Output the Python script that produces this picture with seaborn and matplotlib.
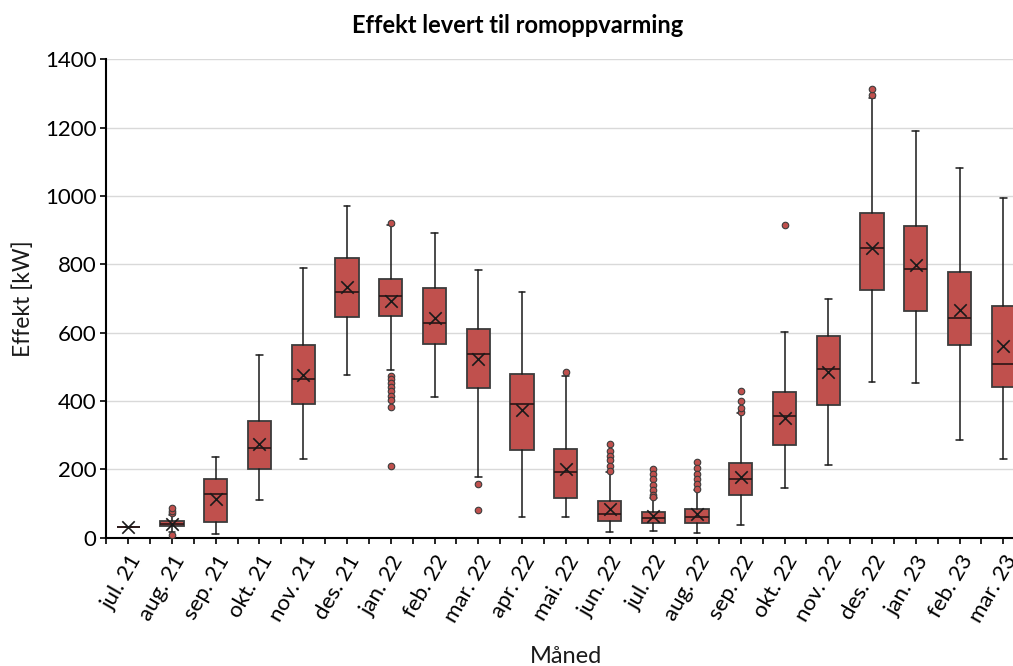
import numpy as np
import matplotlib
matplotlib.use("Agg")
import matplotlib.pyplot as plt
import seaborn as sns

# ------------------------------
# Data
# ------------------------------
months = ["jul. 21", "aug. 21", "sep. 21", "okt. 21", "nov. 21", "des. 21",
          "jan. 22", "feb. 22", "mar. 22", "apr. 22", "mai. 22", "jun. 22",
          "jul. 22", "aug. 22", "sep. 22", "okt. 22", "nov. 22", "des. 22",
          "jan. 23", "feb. 23", "mar. 23"]

whisker_low = [30, 18, 12, 109, 230, 476, 491, 413, 178, 62, 60, 17, 19, 13, 36, 145, 213, 456, 454, 286, 231]
q1 = [30, 33, 46, 200, 392, 647, 649, 568, 438, 256, 116, 50, 44, 42, 124, 272, 387, 724, 662, 563, 440]
median = [30, 41, 128, 263, 464, 719, 706, 629, 538, 392, 191, 69, 57, 60, 172, 355, 495, 849, 787, 644, 509]
q3 = [30, 48, 173, 342, 563, 819, 758, 731, 612, 479, 260, 107, 75, 84, 220, 425, 590, 951, 913, 778, 678]
whisker_high = [30, 67, 235, 535, 789, 971, 914, 892, 784, 719, 473, 191, 116, 141, 365, 601, 699, 1288, 1191, 1081, 993]
mean = [30, 41, 113, 274, 477, 733, 694, 643, 523, 375, 202, 84, 64, 69, 177, 350, 485, 848, 797, 665, 560]

# outliers: month label + value
outlier_month = (["aug. 21"] * 4 + ["jan. 22"] * 10 + ["mar. 22"] * 2 + ["mai. 22"]
                 + ["jun. 22"] * 6 + ["jul. 22"] * 7 + ["aug. 22"] * 6
                 + ["sep. 22"] * 4 + ["okt. 22"] + ["des. 22"] * 2)
outlier_value = ([9, 72, 79, 87]
                 + [920, 474, 465, 453, 440, 429, 416, 404, 383, 209]
                 + [157, 82]
                 + [486]
                 + [274, 255, 240, 226, 211, 196]
                 + [202, 187, 171, 155, 141, 126, 118]
                 + [223, 204, 187, 173, 158, 143]
                 + [368, 380, 399, 428]
                 + [914]
                 + [1295, 1312])

# ------------------------------
# Style
# ------------------------------
sns.set_theme(style="whitegrid")
plt.rcParams["font.family"] = ["Lato", "DejaVu Sans"]

box_color = "#C0504D"
edge_color = "#3c3c3c"

fig = plt.figure(figsize=(10.13, 6.66), dpi=100)
ax = fig.add_axes([0.105, 0.1926, 0.907, 0.7184])

# ------------------------------
# Boxes from the five-number summaries
# ------------------------------
positions = np.arange(len(months))
stats = []
for i, m in enumerate(months):
    stats.append({
        "label": m,
        "whislo": whisker_low[i],
        "q1": q1[i],
        "med": median[i],
        "q3": q3[i],
        "whishi": whisker_high[i],
        "fliers": [],
    })

ax.bxp(stats, positions=positions, widths=0.53, capwidths=0.15,
       patch_artist=True, showmeans=False, showfliers=False,
       boxprops=dict(facecolor=box_color, edgecolor=edge_color, linewidth=1.3),
       medianprops=dict(color="#2a1515", linewidth=1.2),
       whiskerprops=dict(color="#1a1a1a", linewidth=1.1),
       capprops=dict(color="#1a1a1a", linewidth=1.1))

# means (x markers)
sns.scatterplot(x=positions, y=mean, marker="x", color="#1a1a1a", s=80,
                linewidth=1.2, ax=ax, zorder=5, legend=False)

# outliers
outlier_pos = [months.index(m) for m in outlier_month]
sns.scatterplot(x=outlier_pos, y=outlier_value, color=box_color,
                edgecolor=edge_color, s=22, linewidth=0.8, ax=ax, zorder=4,
                legend=False)

# ------------------------------
# Axes, ticks, labels
# ------------------------------
ax.set_xlim(-0.5, len(months) - 0.5)
ax.set_ylim(0, 1400)
ax.set_yticks(np.arange(0, 1401, 200))
ax.set_xticks(positions)
ax.set_xticklabels(months, rotation=60, ha="right", rotation_mode="anchor")
ax.set_xticks(np.arange(-0.5, len(months), 1), minor=True)

ax.grid(axis="x", visible=False)
ax.grid(axis="y", color="#d9d9d9", linewidth=1.0)
ax.set_axisbelow(True)

for side in ["top", "right"]:
    ax.spines[side].set_visible(False)
for side in ["left", "bottom"]:
    ax.spines[side].set_color("black")
    ax.spines[side].set_linewidth(1.5)

ax.tick_params(axis="both", which="both", direction="out", color="black",
               length=4, width=1.2, bottom=True, left=True)
ax.tick_params(axis="y", labelsize=16, pad=3, labelcolor="black")
ax.tick_params(axis="x", labelsize=16, pad=6, labelcolor="black")

ax.set_xlabel("Måned", fontsize=17, color="#1a1a1a", labelpad=14)
ax.set_ylabel("Effekt [kW]", fontsize=16.5, color="#1a1a1a", labelpad=8)

fig.text(0.511, 0.962, "Effekt levert til romoppvarming", ha="center",
         va="center", fontsize=17, fontweight="bold", color="black")

fig.savefig("out.png", dpi=100)
